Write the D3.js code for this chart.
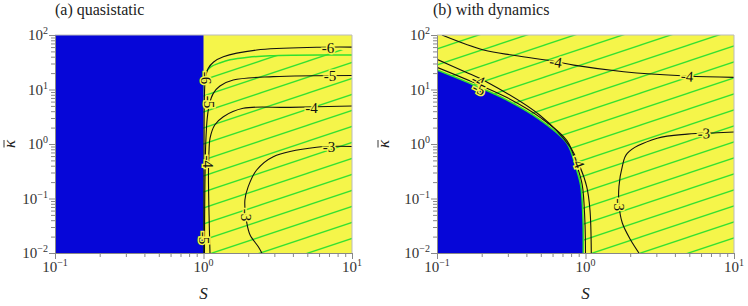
<!DOCTYPE html>
<html>
<head>
<meta charset="utf-8">
<script src="https://cdn.jsdelivr.net/npm/d3@7"></script>
<style>
  body { margin: 0; background: #fff; }
  svg { display: block; }
</style>
</head>
<body>
<svg id="chart" width="748" height="306"></svg>
<script>
// axis ticks
const xMajor = [0.1, 1, 10];
const yMajor = [0.01, 0.1, 1, 10, 100];

// (a) quasistatic : unstable region is S < 1
const blueEdgeA = 1;
// upper edge of the hatched region (S, kappa)
const hatchTopA = [[1.0, 0.01], [1.0, 15], [1.03, 20], [1.12, 26], [1.3, 31], [1.51, 35],
  [2, 39], [2.8, 41.5], [4, 42.5], [10, 43]];
const contourA6 = [[10, 60], [5.78, 59.5], [2.28, 53], [1.36, 40], [1.17, 32], [1.077, 24.5],
  [1.03, 16], [1.015, 8], [1.008, 1], [1.005, 0.01]];
const contourA5 = [[10, 18.1], [2.95, 17.2], [1.585, 14.9], [1.29, 11.6], [1.164, 8.5],
  [1.1, 5.6], [1.06, 3], [1.035, 1], [1.02, 0.1], [1.015, 0.01]];
const contourA4 = [[10, 4.98], [3.82, 4.7], [1.85, 4.52], [1.36, 3.17], [1.19, 2.23],
  [1.106, 1.27], [1.09, 0.78], [1.08, 0.27], [1.09, 0.05], [1.106, 0.01]];
const contourA3 = [[10, 0.9], [5.78, 0.87], [2.95, 0.585], [2.28, 0.333], [2.0, 0.165],
  [1.9, 0.094], [1.96, 0.035], [2.06, 0.0214], [2.34, 0.013], [2.47, 0.01]];
const labelsA = [
  { t: '-6', S: 6.89, k: 59, a: 0 },
  { t: '-5', S: 7.11, k: 18.1, a: 0 },
  { t: '-4', S: 5.33, k: 4.68, a: 0 },
  { t: '-3', S: 7.0, k: 0.9, a: 0 },
  { t: '-6', S: 1.045, k: 16.3, a: 90 },
  { t: '-5', S: 1.1, k: 5.9, a: 90 },
  { t: '-4', S: 1.07, k: 0.47, a: 90 },
  { t: '-5', S: 1.008, k: 0.0188, a: 90 },
  { t: '-3', S: 1.955, k: 0.0498, a: 90 }
];

// (b) with dynamics
const blueEdgeB = [[0.1, 22.8], [0.177, 12.1], [0.296, 6.4], [0.497, 2.75], [0.75, 1.03],
  [0.859, 0.38], [0.929, 0.17], [0.962, 0.04], [0.966, 0.01]];
const contourB5 = [[0.1, 25.5], [0.177, 13.4], [0.296, 7.1], [0.497, 3.05], [0.75, 1.15],
  [0.87, 0.42], [0.95, 0.18], [0.99, 0.04], [1.0, 0.01]];
const contourB4a = [[0.1, 35.8], [0.154, 21.2], [0.215, 13.9], [0.491, 3.4], [0.786, 0.89],
  [0.918, 0.383], [1.019, 0.165], [1.072, 0.0616], [1.094, 0.01]];
const contourB4b = [[0.108, 100], [0.206, 53], [0.335, 42], [0.63, 32.4], [0.834, 28],
  [1.81, 21.2], [4.8, 17.7], [10, 16.7]];
const contourB3 = [[10, 1.66], [7.71, 1.61], [4.85, 1.52], [3.04, 1.27], [1.91, 0.675],
  [1.77, 0.39], [1.68, 0.167], [1.68, 0.077], [1.77, 0.0355], [2.01, 0.0175], [2.29, 0.01]];
const labelsB = [
  { t: '-4', S: 0.63, k: 32.4, a: 9 },
  { t: '-4', S: 4.83, k: 17.7, a: 4 },
  { t: '-3', S: 6.27, k: 1.57, a: -2 },
  { t: '-3', S: 1.68, k: 0.077, a: 90 },
  { t: '-4', S: 0.19, k: 14.9, a: 25 },
  { t: '-5', S: 0.192, k: 10.4, a: 25 },
  { t: '-4', S: 0.894, k: 0.473, a: 70 }
];

const BLUE = '#0606d8', YELLOW = '#f5f54a', GREEN = '#2fe02f';
const plotTop = 35, plotBottom = 253;

const svg = d3.select('#chart').style('font-family', '"Liberation Serif", "Times New Roman", serif');
const defs = svg.append('defs');

function exponentLabel(sel, v) {
  sel.append('tspan').text('10');
  sel.append('tspan')
    .attr('dy', -6)
    .attr('font-size', 10)
    .text(String(Math.round(Math.log10(v))).replace('-', '\u2212'));
}

function drawPanel(p) {
  const x = d3.scaleLog().domain([0.1, 10]).range([p.x0, p.x1]);
  const y = d3.scaleLog().domain([0.01, 100]).range([plotBottom, plotTop]);
  const line = d3.line().x(d => x(d[0])).y(d => y(d[1])).curve(d3.curveCatmullRom.alpha(0.5));
  const g = svg.append('g');

  const clipId = 'clip-' + p.id;
  defs.append('clipPath').attr('id', clipId)
    .append('rect').attr('x', p.x0).attr('y', plotTop)
    .attr('width', p.x1 - p.x0).attr('height', plotBottom - plotTop);

  // hatch pattern (phase set so a line meets the bottom axis at p.hatchX)
  const pat = defs.append('pattern').attr('id', 'hatch-' + p.id)
    .attr('patternUnits', 'userSpaceOnUse')
    .attr('x', p.hatchX).attr('y', plotBottom - 16)
    .attr('width', 48).attr('height', 16);
  pat.append('path')
    .attr('d', 'M-6,18 L54,-2 M42,18 L54,14 M-6,2 L6,-2')
    .attr('stroke', GREEN).attr('stroke-width', 1.3).attr('fill', 'none');

  const body = g.append('g').attr('clip-path', `url(#${clipId})`);
  body.append('rect').attr('x', p.x0).attr('y', plotTop)
    .attr('width', p.x1 - p.x0).attr('height', plotBottom - plotTop).attr('fill', YELLOW);

  p.drawRegions(body, x, y, line);

  // contours
  p.contours.forEach(c => {
    body.append('path').attr('d', line(c)).attr('fill', 'none')
      .attr('stroke', '#111').attr('stroke-width', 1.1);
  });

  // contour labels
  p.labels.forEach(l => {
    body.append('text')
      .attr('transform', `translate(${x(l.S)},${y(l.k)}) rotate(${l.a})`)
      .attr('text-anchor', 'middle').attr('dy', '0.35em')
      .attr('font-size', 15).attr('fill', '#111')
      .attr('stroke', YELLOW).attr('stroke-width', 3).attr('paint-order', 'stroke')
      .text(l.t);
  });

  // frame
  g.append('path')
    .attr('d', `M${p.x0},${plotTop} H${p.x1} V${plotBottom}`)
    .attr('fill', 'none').attr('stroke', '#bbb').attr('stroke-width', 1);

  // axes
  const isMajor = v => Math.abs(Math.log10(v) - Math.round(Math.log10(v))) < 1e-6;
  const xMinor = x.ticks().filter(v => !isMajor(v));
  const yMinor = y.ticks().filter(v => !isMajor(v));

  const ax = g.append('g').attr('transform', `translate(0,${plotBottom})`);
  ax.call(d3.axisBottom(x).tickValues(xMajor).tickSize(6).tickSizeOuter(0).tickFormat(''));
  ax.append('g').call(d3.axisBottom(x).tickValues(xMinor).tickSize(4).tickSizeOuter(0).tickFormat(''))
    .select('.domain').remove();
  const ay = g.append('g').attr('transform', `translate(${p.x0},0)`);
  ay.call(d3.axisLeft(y).tickValues(yMajor).tickSize(6).tickSizeOuter(0).tickFormat(''));
  ay.append('g').call(d3.axisLeft(y).tickValues(yMinor).tickSize(4).tickSizeOuter(0).tickFormat(''))
    .select('.domain').remove();
  g.selectAll('.domain').attr('stroke', '#888');
  g.selectAll('.tick line').attr('stroke', '#888');
  g.selectAll('.tick text').remove();

  xMajor.forEach(v => {
    g.append('text').attr('x', x(v)).attr('y', 272)
      .attr('text-anchor', 'middle').attr('font-size', 15).attr('fill', '#333')
      .call(exponentLabel, v);
  });
  yMajor.forEach(v => {
    g.append('text').attr('x', p.x0 - 7).attr('y', y(v) + 5)
      .attr('text-anchor', 'end').attr('font-size', 15).attr('fill', '#333')
      .call(exponentLabel, v);
  });

  // axis titles
  g.append('text').attr('x', (p.x0 + p.x1) / 2).attr('y', 299)
    .attr('text-anchor', 'middle').attr('font-size', 17).attr('font-style', 'italic')
    .attr('fill', '#222').text('S');
  const yl = g.append('g').attr('transform', `translate(${p.ylabX},${(plotTop + plotBottom) / 2}) rotate(-90)`);
  yl.append('text').attr('text-anchor', 'middle').attr('font-size', 17)
    .attr('font-style', 'italic').attr('fill', '#222').text('\u03ba');
  yl.append('line').attr('x1', -3.5).attr('x2', 4).attr('y1', -11).attr('y2', -11)
    .attr('stroke', '#222').attr('stroke-width', 0.9);

  // panel title
  g.append('text').attr('x', p.titleX).attr('y', 15).attr('font-size', 16)
    .attr('fill', '#222').text(p.title);
}

drawPanel({
  id: 'a', x0: 55, x1: 352, hatchX: 308.3, ylabX: 15, titleX: 55,
  title: '(a) quasistatic',
  contours: [contourA6, contourA5, contourA4, contourA3],
  labels: labelsA,
  drawRegions: (body, x, y, line) => {
    const area = hatchTopA.concat([[10, 0.01]]);
    body.append('path').attr('d', line(area) + 'Z').attr('fill', 'url(#hatch-a)');
    body.append('path').attr('d', line(hatchTopA)).attr('fill', 'none')
      .attr('stroke', GREEN).attr('stroke-width', 1.5);
    body.append('rect').attr('x', x(0.1)).attr('y', plotTop)
      .attr('width', x(blueEdgeA) - x(0.1)).attr('height', plotBottom - plotTop).attr('fill', BLUE);
  }
});

drawPanel({
  id: 'b', x0: 437, x1: 734, hatchX: 640.7, ylabX: 389, titleX: 433,
  title: '(b) with dynamics',
  contours: [contourB5, contourB4a, contourB4b, contourB3],
  labels: labelsB,
  drawRegions: (body, x, y, line) => {
    body.append('rect').attr('x', x(0.1)).attr('y', plotTop)
      .attr('width', x(10) - x(0.1)).attr('height', plotBottom - plotTop).attr('fill', 'url(#hatch-b)');
    body.append('path').attr('d', line(blueEdgeB) + `L${x(0.1)},${y(0.01)}Z`).attr('fill', BLUE);
    body.append('path').attr('d', line(blueEdgeB)).attr('fill', 'none')
      .attr('stroke', GREEN).attr('stroke-width', 1.5);
  }
});
</script>
</body>
</html>
